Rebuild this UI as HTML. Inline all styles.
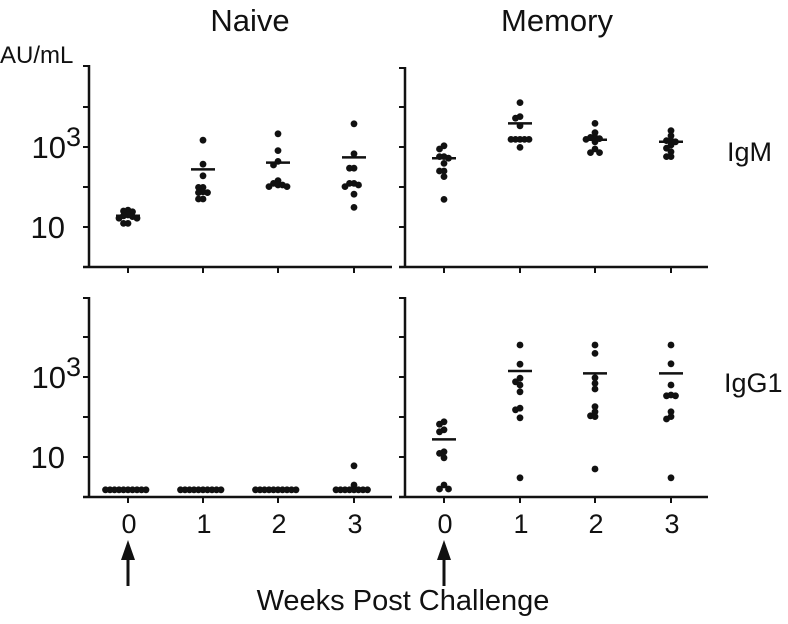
<!DOCTYPE html>
<html><head><meta charset="utf-8"><style>
html,body{margin:0;padding:0;background:#fff}
svg{display:block;font-family:"Liberation Sans",Arial,sans-serif}
</style></head><body>
<svg id="chart" width="788" height="624" viewBox="0 0 788 624">
<g id="g"></g>
</svg>
<script>
const weeks = ["0","1","2","3"];
const naiveIgM = [[1.42,1.40,1.38,1.30,1.28,1.26,1.22,1.22,1.09,1.09],[3.17,2.57,2.28,1.99,1.99,1.88,1.86,1.86,1.70,1.70],[3.33,2.91,2.64,2.55,2.16,2.09,2.05,2.05,2.01,2.01],[3.58,2.83,2.47,2.47,2.09,2.09,2.05,2.01,1.82,1.49]];
const naiveIgMMean = [1.28,2.44,2.61,2.74];
const memIgM = [[3.03,2.95,2.76,2.76,2.72,2.59,2.40,2.40,2.26,1.69],[4.11,3.76,3.72,3.53,3.19,3.19,3.19,3.19,3.19,2.99],[3.59,3.36,3.24,3.24,3.21,3.19,3.13,2.95,2.86,2.86],[3.41,3.28,3.16,3.16,3.13,3.05,2.97,2.88,2.76,2.76]];
const memIgMMean = [2.72,3.59,3.18,3.13];
const naiveIgG = [[0.18,0.18,0.18,0.18,0.18,0.18,0.18,0.18,0.18,0.18],[0.18,0.18,0.18,0.18,0.18,0.18,0.18,0.18,0.18,0.18],[0.18,0.18,0.18,0.18,0.18,0.18,0.18,0.18,0.18,0.18],[0.78,0.30,0.18,0.18,0.18,0.18,0.18,0.18,0.18,0.18]];
const naiveIgGMean = [null,null,null,null];
const memIgG = [[1.88,1.82,1.68,1.63,1.13,1.09,0.98,0.30,0.20,0.20],[3.80,3.32,2.97,2.88,2.80,2.63,2.22,2.18,1.98,0.48],[3.80,3.59,2.98,2.84,2.70,2.26,2.13,2.03,2.01,0.70],[3.80,3.33,2.80,2.55,2.53,2.53,2.13,2.01,1.95,0.48]];
const memIgGMean = [1.44,3.15,3.09,3.09];
const yTickLabels = [{v:1,t:"10",sup:""},{v:3,t:"10",sup:"3"}];

const NS="http://www.w3.org/2000/svg";
const g=document.getElementById('g');
function mk(tag,attrs,parent){const e=document.createElementNS(NS,tag);for(const k in attrs)e.setAttribute(k,attrs[k]);(parent||g).appendChild(e);return e;}

const panels=[
 {name:"naive-igm",x0:89,xEnd:392,yTop:65,yBase:267,ticksX:[128,203,278,354],data:naiveIgM,mean:naiveIgMMean,labels:true,xlabels:false},
 {name:"memory-igm",x0:405,xEnd:708,yTop:67,yBase:267,ticksX:[444,520,595,671],data:memIgM,mean:memIgMMean,labels:false,xlabels:false},
 {name:"naive-igg1",x0:89,xEnd:392,yTop:297,yBase:497,ticksX:[128,203,278,354],data:naiveIgG,mean:naiveIgGMean,labels:true,xlabels:true},
 {name:"memory-igg1",x0:405,xEnd:708,yTop:297,yBase:497,ticksX:[444,520,595,671],data:memIgG,mean:memIgGMean,labels:false,xlabels:true}
];
const perDecade=40;
panels.forEach(p=>{
  const pg=mk('g',{});
  
  
  const y=v=>p.yBase-v*perDecade;
  const ya=mk('line',{x1:p.x0,y1:p.yTop,x2:p.x0,y2:p.yBase+1,stroke:'#111','stroke-width':2.5},pg);
  
  
  const xa=mk('line',{x1:p.x0-6,y1:p.yBase,x2:p.xEnd,y2:p.yBase,stroke:'#111','stroke-width':2.5},pg);
  
  
  mk('line',{x1:p.x0-6,y1:p.yTop+1,x2:p.x0,y2:p.yTop+1,stroke:'#111','stroke-width':2},pg);
  for(let d=1;d<=4;d++){
    const t=mk('line',{x1:p.x0-6,y1:y(d),x2:p.x0,y2:y(d),stroke:'#111','stroke-width':2},pg);
    
    
  }
  if(p.labels){
    yTickLabels.forEach(l=>{
      const tx=mk('text',{x:p.x0-8,y:y(l.v)+11,'text-anchor':'end','font-size':31,fill:'#111'},pg);
      
      
      tx.appendChild(document.createTextNode(l.t));
      if(l.sup){const s=mk('tspan',{dy:-12,'font-size':27},tx);s.textContent=l.sup;}
      if(!l.sup) tx.setAttribute('x',p.x0-24);
    });
  }
  p.ticksX.forEach((cx,i)=>{
    const t=mk('line',{x1:cx,y1:p.yBase,x2:cx,y2:p.yBase+6,stroke:'#111','stroke-width':2},pg);
    
    
    if(p.xlabels){
      const tl=mk('text',{x:cx+1,y:533,'text-anchor':'middle','font-size':27,fill:'#111'},pg);
      
      
      tl.textContent=weeks[i];
    }
    const placed=[];
    p.data[i].forEach(v=>{
      const py=y(v);
      let off=0;
      const offs=[0];
      for(let s=1;s<14;s++){offs.push(-s*4.5,s*4.5);}
      for(let k=0;k<offs.length;k++){
        off=offs[k];
        if(placed.every(q=>Math.hypot(q[0]-(cx+off),q[1]-py)>=4.4))break;
      }
      placed.push([cx+off,py]);
      const c=mk('circle',{cx:cx+off,cy:py,r:3.4,fill:'#111'},pg);
      
      
    });
    const m=p.mean[i];
    if(m!==null){
      const ml=mk('line',{x1:cx-12,y1:y(m),x2:cx+12,y2:y(m),stroke:'#111','stroke-width':2.5},pg);
      
      
    }
  });
});
function txt(x,y,s,size,name,anchor){const t=mk('text',{x:x,y:y,'font-size':size,fill:'#111','text-anchor':anchor||'middle'});t.textContent=s;return t;}
txt(250,31,"Naive",31,'naive-title');
txt(557,31,"Memory",31,'memory-title');
txt(0,63,"AU/mL",24,'y-axis-unit','start');
txt(727,161,"IgM",27,'igm-label','start');
txt(724,392,"IgG1",27,'igg1-label','start');
txt(403,610,"Weeks Post Challenge",29,'x-axis-title');
[128,444].forEach(ax=>{
  const a=mk('g',{});
  
  
  mk('line',{x1:ax,y1:556,x2:ax,y2:586,stroke:'#111','stroke-width':3},a);
  mk('polygon',{points:`${ax},540 ${ax-7},560 ${ax+7},560`,fill:'#111'},a);
});
</script>
</body></html>
